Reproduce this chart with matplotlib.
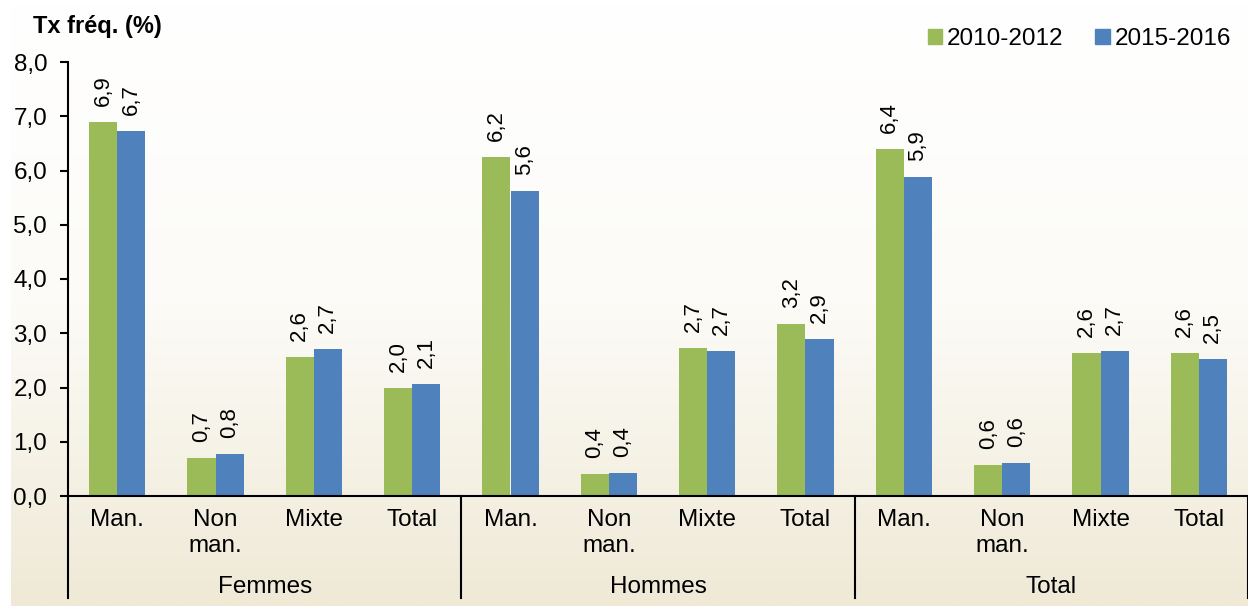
import matplotlib
matplotlib.use("Agg")
import matplotlib.pyplot as plt
import numpy as np
from matplotlib.patches import Patch
from matplotlib.colors import LinearSegmentedColormap
import matplotlib.transforms as mtransforms

plt.rcParams['font.family'] = ['Liberation Sans', 'DejaVu Sans']

groups = ["Femmes", "Hommes", "Total"]
subcats = ["Man.", "Non\nman.", "Mixte", "Total"]
series_names = ["2010-2012", "2015-2016"]
s2010 = [6.89, 0.70, 2.56, 1.99, 6.25, 0.41, 2.73, 3.17, 6.40, 0.57, 2.64, 2.64]
s2015 = [6.73, 0.77, 2.71, 2.07, 5.62, 0.42, 2.67, 2.89, 5.88, 0.61, 2.68, 2.53]
yticks = [0.0, 1.0, 2.0, 3.0, 4.0, 5.0, 6.0, 7.0, 8.0]

green = "#9BBB59"
blue = "#4F81BD"

W, H = 1248, 609
fig = plt.figure(figsize=(W/100, H/100), dpi=100)

# gradient background
bg = fig.add_axes([11/W, 3/H, (W-11)/W, (606-3)/H], zorder=-5)
cmap = LinearSegmentedColormap.from_list("g", ["#FFFFFF", "#FCFBF7", "#EFE9D6"])
grad = np.linspace(0, 1, 256).reshape(-1, 1)
bg.imshow(grad, aspect="auto", cmap=cmap, extent=[0, 1, 1, 0])
bg.set_axis_off()

x0, x1 = 68, 1248
ytop, ybot = 62, 496
ax = fig.add_axes([x0/W, (H-ybot)/H, (x1-x0)/W, (ybot-ytop)/H])
ax.patch.set_alpha(0)

n = len(s2010)
x = np.arange(n)
bw = 0.285
ax.bar(x - bw/2, s2010, bw, color=green, label=series_names[0], zorder=2)
ax.bar(x + bw/2, s2015, bw, color=blue, label=series_names[1], zorder=2)

for xi, v in zip(x - bw/2, s2010):
    ax.annotate(f"{v:.1f}".replace(".", ","), (xi, v), xytext=(0, 11.5), textcoords="offset points",
                rotation=90, ha="center", va="bottom", fontsize=16)
for xi, v in zip(x + bw/2, s2015):
    ax.annotate(f"{v:.1f}".replace(".", ","), (xi, v), xytext=(0, 11.5), textcoords="offset points",
                rotation=90, ha="center", va="bottom", fontsize=16)

ax.set_xlim(-0.5, n - 0.5)
ax.set_ylim(0, 8)
ax.set_yticks(yticks)
ax.set_yticklabels([f"{t:.1f}".replace(".", ",") for t in yticks], fontsize=17.5)
ax.tick_params(axis="y", direction="out", length=6, width=1.5, pad=9)
ax.set_xticks([])
for s in ["top", "right"]:
    ax.spines[s].set_visible(False)
ax.spines["left"].set_linewidth(1.5)
ax.spines["bottom"].set_linewidth(1.5)

axh = ybot - ytop
trans = mtransforms.blended_transform_factory(ax.transData, ax.transAxes)
# group separators
for sx in [-0.5, 3.5, 7.5, 11.5]:
    ax.plot([sx, sx], [0, -102/axh], transform=trans, color="black", lw=1.5, clip_on=False)

for i in range(n):
    ax.text(i, -13/axh, subcats[i % 4], transform=trans, ha="center", va="top",
            fontsize=17.5, linespacing=1.25)
for g, name in enumerate(groups):
    ax.text(g*4 + 1.5, -91/axh, name, transform=trans, ha="center", va="center", fontsize=17.5)

fig.text(33/W, 1 - 27/H, "Tx fréq. (%)", fontsize=17, fontweight="bold", ha="left", va="center")

handles = [Patch(color=green), Patch(color=blue)]
fig.legend(handles, series_names, loc="center right", bbox_to_anchor=(1231/W, 1 - 39/H),
           ncol=2, frameon=False, fontsize=17.5, handlelength=0.6, handleheight=0.6,
           handletextpad=0.2, columnspacing=1.3, borderaxespad=0, borderpad=0)

fig.savefig("out.png", dpi=100)
